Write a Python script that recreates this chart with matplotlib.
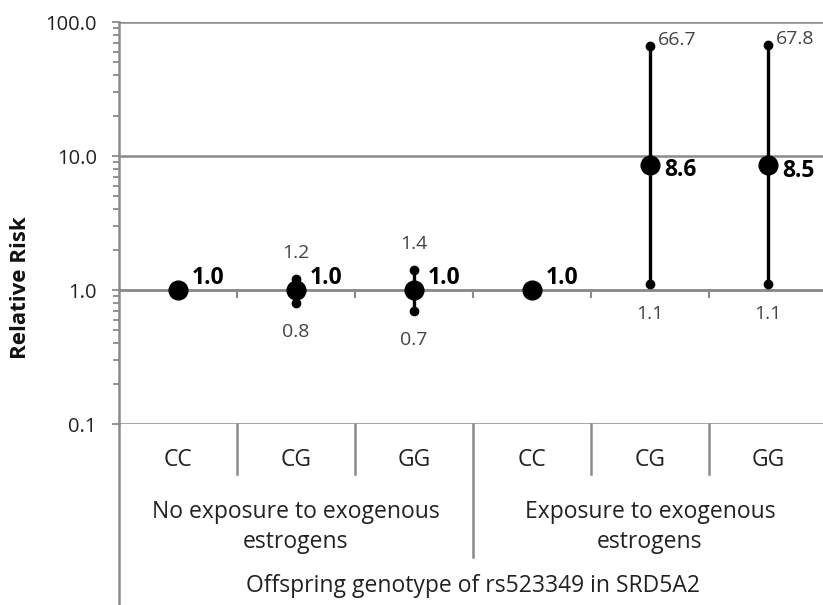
import matplotlib
matplotlib.use("Agg")
import matplotlib.pyplot as plt
import matplotlib.transforms as mtransforms
from matplotlib.ticker import FuncFormatter, LogLocator, FixedLocator
import numpy as np

plt.rcParams['font.family'] = ['Open Sans', 'DejaVu Sans']

# data
genotypes = ["CC", "CG", "GG", "CC", "CG", "GG"]
groups = ["No exposure to exogenous\nestrogens", "Exposure to exogenous\nestrogens"]
relative_risk = [1.0, 1.0, 1.0, 1.0, 8.6, 8.5]
ci_low = [np.nan, 0.8, 0.7, np.nan, 1.1, 1.1]
ci_high = [np.nan, 1.2, 1.4, np.nan, 66.7, 67.8]
y_ticks = [0.1, 1.0, 10.0, 100.0]
x_title = "Offspring genotype of rs523349 in SRD5A2"
y_title = "Relative Risk"

W, H = 823, 605
grid_col = '#8a8a8a'

fig = plt.figure(figsize=(W / 100, H / 100), dpi=100)
ax = fig.add_axes([119 / W, 1 - 424 / H, 708 / W, 402 / H])

x = np.arange(1, len(genotypes) + 1)

ax.set_yscale('log')
ax.set_ylim(0.1, 100)
ax.set_xlim(0.5, len(genotypes) + 0.5)
ax.yaxis.set_major_locator(FixedLocator(y_ticks))
ax.yaxis.set_minor_locator(LogLocator(base=10, subs=np.arange(2, 10)))
ax.yaxis.set_major_formatter(FuncFormatter(lambda v, p: f"{v:.1f}"))
ax.yaxis.set_minor_formatter(FuncFormatter(lambda v, p: ""))
ax.yaxis.grid(True, which='major', color=grid_col, linewidth=1.8)
ax.set_axisbelow(True)
ax.tick_params(axis='y', which='major', length=5, width=1.3, color=grid_col,
               labelsize=14.5, labelcolor='#222222', pad=11)
ax.tick_params(axis='y', which='minor', length=4.5, width=1.3, color=grid_col)

# horizontal axis crosses at 1.0, with tick marks between categories
for s in ['top', 'right']:
    ax.spines[s].set_visible(False)
ax.spines['bottom'].set_position(('data', 1.0))
ax.spines['bottom'].set_color(grid_col)
ax.spines['bottom'].set_linewidth(1.8)
ax.spines['left'].set_color(grid_col)
ax.spines['left'].set_linewidth(1.8)
ax.set_xticks(np.arange(1.5, len(genotypes), 1.0))
ax.tick_params(axis='x', length=5.5, width=1.5, color=grid_col, labelbottom=False)

# confidence intervals
for xi, lo, hi in zip(x, ci_low, ci_high):
    if np.isnan(lo):
        continue
    ax.plot([xi, xi], [lo, hi], color='black', linewidth=2.4, zorder=3)
    ax.plot([xi, xi], [lo, hi], 'o', color='black', markersize=6, zorder=4)
    if hi > 10:
        ax.annotate(f"{hi:.1f}", (xi, hi), xytext=(6, 4), textcoords='offset points',
                    ha='left', va='center', fontsize=14, color='#444444')
    else:
        ax.annotate(f"{hi:.1f}", (xi, hi), xytext=(0, 19), textcoords='offset points',
                    ha='center', va='center', fontsize=14, color='#444444')
    ax.annotate(f"{lo:.1f}", (xi, lo), xytext=(0, -21), textcoords='offset points',
                ha='center', va='center', fontsize=14, color='#444444')

# point estimates
ax.plot(x, relative_risk, 'o', color='black', markersize=13.5, zorder=5)
for xi, rr in zip(x, relative_risk):
    off = (10, 9) if rr < 2 else (10, -4)
    ax.annotate(f"{rr:.1f}", (xi, rr), xytext=off, textcoords='offset points',
                ha='left', va='center', fontsize=16.5, fontweight='bold', color='black')

# category table below the plot
tr = mtransforms.blended_transform_factory(ax.transData, fig.transFigure)


def fy(px):
    return 1 - px / H


for xi, g in zip(x, genotypes):
    ax.text(xi, fy(460), g, transform=tr, ha='center', va='center', fontsize=16.5, color='#222222')
for k, g in enumerate(groups):
    ax.text(2 + 3 * k, fy(527), g, transform=tr, ha='center', va='center', fontsize=16.5,
            color='#222222', linespacing=1.3)
ax.text(3.5, fy(586), x_title, transform=tr, ha='center', va='center', fontsize=16.5,
        color='#222222')

for b in [1.5, 2.5, 4.5, 5.5]:
    ax.plot([b, b], [fy(424), fy(474)], transform=tr, color=grid_col, lw=1.8, clip_on=False)
ax.plot([3.5, 3.5], [fy(424), fy(557)], transform=tr, color=grid_col, lw=1.8, clip_on=False)
ax.plot([0.5, 0.5], [fy(424), 0], transform=tr, color=grid_col, lw=1.8, clip_on=False)

fig.text(21 / W, fy(288), y_title, rotation=90, ha='center', va='center', fontsize=16,
         fontweight='bold', color='#111111')

fig.savefig('out.png', dpi=100)
